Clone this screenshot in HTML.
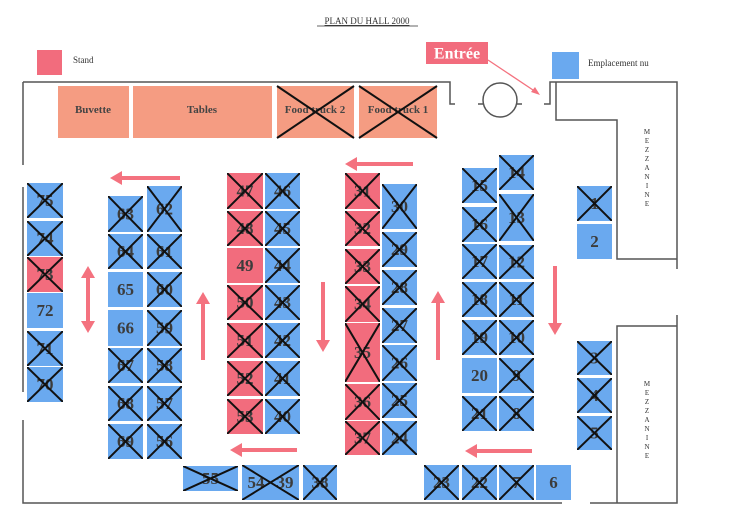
<!DOCTYPE html>
<html><head><meta charset="utf-8">
<style>
html,body{margin:0;padding:0;background:#fff;width:734px;height:519px;overflow:hidden}
svg{display:block}
.b{fill:#6aa9ef}.p{fill:#f26c7d}.s{fill:#f59c82}
line.x{stroke:#111;stroke-width:2}
text.n{font-family:"Liberation Serif",serif;font-weight:bold;font-size:17px;fill:#3c3c3c;text-anchor:middle;dominant-baseline:central}
text.f{font-family:"Liberation Serif",serif;font-weight:bold;font-size:11px;fill:#444;text-anchor:middle;dominant-baseline:central}
.w{stroke:#555;stroke-width:1.5;fill:none}
.ar{stroke:#f4727f;stroke-width:4}
.ah{fill:#f4727f}
.mz{font-family:"Liberation Serif",serif;font-size:7px;fill:#333;text-anchor:middle}
</style></head><body>
<svg width="734" height="519" viewBox="0 0 734 519" xmlns="http://www.w3.org/2000/svg">
<text x="367" y="24" font-family="Liberation Serif,serif" font-size="9" text-anchor="middle" fill="#333" text-decoration="underline">PLAN DU HALL 2000</text>
<line x1="317" y1="26" x2="418" y2="26" stroke="#333" stroke-width="0.7"/>
<rect x="37" y="50" width="25" height="25" class="p"/>
<text x="73" y="63" font-family="Liberation Serif,serif" font-size="9" fill="#333">Stand</text>
<rect x="552" y="52" width="27" height="27" class="b"/>
<text x="588" y="66" font-family="Liberation Serif,serif" font-size="9" fill="#333">Emplacement nu</text>
<rect x="426" y="42" width="62" height="22" class="p"/>
<text x="457" y="54" font-family="Liberation Serif,serif" font-weight="bold" font-size="16" fill="#fff" text-anchor="middle" dominant-baseline="central">Entrée</text>
<line x1="488" y1="60" x2="536" y2="92" stroke="#f4727f" stroke-width="1.3"/>
<polygon points="540,95 531,92 535,87" fill="#f4727f"/>

<!-- walls -->
<path class="w" d="M23 82 H450 V104 H455 M478 104 H483 M517 104 H522 M544 104 H550 V82 H677 V269 M556 82 V120 H617 V259 H677 M677 315 V503 H590 M617 503 V326 H677 M23 82 V165 M23 187 V392 M23 420 V503 H562"/>
<circle cx="500" cy="100" r="17" class="w"/>

<!-- top stands -->
<rect x="58" y="86" width="71" height="52" class="s"/><text class="f" x="93" y="110">Buvette</text>
<rect x="133" y="86" width="139" height="52" class="s"/><text class="f" x="202" y="110">Tables</text>
<rect x="277" y="86" width="77" height="52" class="s"/><text class="f" x="315" y="110">Food truck 2</text>
<line class="x" x1="277" y1="86" x2="354" y2="138"/><line class="x" x1="354" y1="86" x2="277" y2="138"/>
<rect x="359" y="86" width="78" height="52" class="s"/><text class="f" x="398" y="110">Food truck 1</text>
<line class="x" x1="359" y1="86" x2="437" y2="138"/><line class="x" x1="437" y1="86" x2="359" y2="138"/>

<!-- mezzanine labels -->
<text class="mz" x="647" y="134"><tspan x="647">M</tspan><tspan x="647" dy="9">E</tspan><tspan x="647" dy="9">Z</tspan><tspan x="647" dy="9">Z</tspan><tspan x="647" dy="9">A</tspan><tspan x="647" dy="9">N</tspan><tspan x="647" dy="9">I</tspan><tspan x="647" dy="9">N</tspan><tspan x="647" dy="9">E</tspan></text>
<text class="mz" x="647" y="386"><tspan x="647">M</tspan><tspan x="647" dy="9">E</tspan><tspan x="647" dy="9">Z</tspan><tspan x="647" dy="9">Z</tspan><tspan x="647" dy="9">A</tspan><tspan x="647" dy="9">N</tspan><tspan x="647" dy="9">I</tspan><tspan x="647" dy="9">N</tspan><tspan x="647" dy="9">E</tspan></text>

<!-- Column A -->
<svg x="27" y="183" width="36" height="35"><rect class="b" width="100%" height="100%"/><text class="n" x="50%" y="50%">75</text><line class="x" x1="0" y1="0" x2="100%" y2="100%"/><line class="x" x1="100%" y1="0" x2="0" y2="100%"/></svg>
<svg x="27" y="221" width="36" height="35"><rect class="b" width="100%" height="100%"/><text class="n" x="50%" y="50%">74</text><line class="x" x1="0" y1="0" x2="100%" y2="100%"/><line class="x" x1="100%" y1="0" x2="0" y2="100%"/></svg>
<svg x="27" y="257" width="36" height="35"><rect class="p" width="100%" height="100%"/><text class="n" x="50%" y="50%">73</text><line class="x" x1="0" y1="0" x2="100%" y2="100%"/><line class="x" x1="100%" y1="0" x2="0" y2="100%"/></svg>
<svg x="27" y="293" width="36" height="35"><rect class="b" width="100%" height="100%"/><text class="n" x="50%" y="50%">72</text></svg>
<svg x="27" y="331" width="36" height="35"><rect class="b" width="100%" height="100%"/><text class="n" x="50%" y="50%">71</text><line class="x" x1="0" y1="0" x2="100%" y2="100%"/><line class="x" x1="100%" y1="0" x2="0" y2="100%"/></svg>
<svg x="27" y="367" width="36" height="35"><rect class="b" width="100%" height="100%"/><text class="n" x="50%" y="50%">70</text><line class="x" x1="0" y1="0" x2="100%" y2="100%"/><line class="x" x1="100%" y1="0" x2="0" y2="100%"/></svg>

<!-- Column B left -->
<svg x="108" y="196" width="35" height="36"><rect class="b" width="100%" height="100%"/><text class="n" x="50%" y="50%">63</text><line class="x" x1="0" y1="0" x2="100%" y2="100%"/><line class="x" x1="100%" y1="0" x2="0" y2="100%"/></svg>
<svg x="108" y="234" width="35" height="35"><rect class="b" width="100%" height="100%"/><text class="n" x="50%" y="50%">64</text><line class="x" x1="0" y1="0" x2="100%" y2="100%"/><line class="x" x1="100%" y1="0" x2="0" y2="100%"/></svg>
<svg x="108" y="272" width="35" height="35"><rect class="b" width="100%" height="100%"/><text class="n" x="50%" y="50%">65</text></svg>
<svg x="108" y="310" width="35" height="36"><rect class="b" width="100%" height="100%"/><text class="n" x="50%" y="50%">66</text></svg>
<svg x="108" y="348" width="35" height="35"><rect class="b" width="100%" height="100%"/><text class="n" x="50%" y="50%">67</text><line class="x" x1="0" y1="0" x2="100%" y2="100%"/><line class="x" x1="100%" y1="0" x2="0" y2="100%"/></svg>
<svg x="108" y="386" width="35" height="35"><rect class="b" width="100%" height="100%"/><text class="n" x="50%" y="50%">68</text><line class="x" x1="0" y1="0" x2="100%" y2="100%"/><line class="x" x1="100%" y1="0" x2="0" y2="100%"/></svg>
<svg x="108" y="424" width="35" height="35"><rect class="b" width="100%" height="100%"/><text class="n" x="50%" y="50%">69</text><line class="x" x1="0" y1="0" x2="100%" y2="100%"/><line class="x" x1="100%" y1="0" x2="0" y2="100%"/></svg>
<!-- Column B right -->
<svg x="147" y="186" width="35" height="46"><rect class="b" width="100%" height="100%"/><text class="n" x="50%" y="50%">62</text><line class="x" x1="0" y1="0" x2="100%" y2="100%"/><line class="x" x1="100%" y1="0" x2="0" y2="100%"/></svg>
<svg x="147" y="234" width="35" height="35"><rect class="b" width="100%" height="100%"/><text class="n" x="50%" y="50%">61</text><line class="x" x1="0" y1="0" x2="100%" y2="100%"/><line class="x" x1="100%" y1="0" x2="0" y2="100%"/></svg>
<svg x="147" y="272" width="35" height="35"><rect class="b" width="100%" height="100%"/><text class="n" x="50%" y="50%">60</text><line class="x" x1="0" y1="0" x2="100%" y2="100%"/><line class="x" x1="100%" y1="0" x2="0" y2="100%"/></svg>
<svg x="147" y="310" width="35" height="36"><rect class="b" width="100%" height="100%"/><text class="n" x="50%" y="50%">59</text><line class="x" x1="0" y1="0" x2="100%" y2="100%"/><line class="x" x1="100%" y1="0" x2="0" y2="100%"/></svg>
<svg x="147" y="348" width="35" height="35"><rect class="b" width="100%" height="100%"/><text class="n" x="50%" y="50%">58</text><line class="x" x1="0" y1="0" x2="100%" y2="100%"/><line class="x" x1="100%" y1="0" x2="0" y2="100%"/></svg>
<svg x="147" y="386" width="35" height="35"><rect class="b" width="100%" height="100%"/><text class="n" x="50%" y="50%">57</text><line class="x" x1="0" y1="0" x2="100%" y2="100%"/><line class="x" x1="100%" y1="0" x2="0" y2="100%"/></svg>
<svg x="147" y="424" width="35" height="35"><rect class="b" width="100%" height="100%"/><text class="n" x="50%" y="50%">56</text><line class="x" x1="0" y1="0" x2="100%" y2="100%"/><line class="x" x1="100%" y1="0" x2="0" y2="100%"/></svg>

<!-- Column C left (pink) -->
<svg x="227" y="173" width="36" height="36"><rect class="p" width="100%" height="100%"/><text class="n" x="50%" y="50%">47</text><line class="x" x1="0" y1="0" x2="100%" y2="100%"/><line class="x" x1="100%" y1="0" x2="0" y2="100%"/></svg>
<svg x="227" y="211" width="36" height="35"><rect class="p" width="100%" height="100%"/><text class="n" x="50%" y="50%">48</text><line class="x" x1="0" y1="0" x2="100%" y2="100%"/><line class="x" x1="100%" y1="0" x2="0" y2="100%"/></svg>
<svg x="227" y="248" width="36" height="35"><rect class="p" width="100%" height="100%"/><text class="n" x="50%" y="50%">49</text></svg>
<svg x="227" y="285" width="36" height="35"><rect class="p" width="100%" height="100%"/><text class="n" x="50%" y="50%">50</text><line class="x" x1="0" y1="0" x2="100%" y2="100%"/><line class="x" x1="100%" y1="0" x2="0" y2="100%"/></svg>
<svg x="227" y="323" width="36" height="35"><rect class="p" width="100%" height="100%"/><text class="n" x="50%" y="50%">51</text><line class="x" x1="0" y1="0" x2="100%" y2="100%"/><line class="x" x1="100%" y1="0" x2="0" y2="100%"/></svg>
<svg x="227" y="361" width="36" height="35"><rect class="p" width="100%" height="100%"/><text class="n" x="50%" y="50%">52</text><line class="x" x1="0" y1="0" x2="100%" y2="100%"/><line class="x" x1="100%" y1="0" x2="0" y2="100%"/></svg>
<svg x="227" y="399" width="36" height="35"><rect class="p" width="100%" height="100%"/><text class="n" x="50%" y="50%">53</text><line class="x" x1="0" y1="0" x2="100%" y2="100%"/><line class="x" x1="100%" y1="0" x2="0" y2="100%"/></svg>
<!-- Column C right -->
<svg x="265" y="173" width="35" height="36"><rect class="b" width="100%" height="100%"/><text class="n" x="50%" y="50%">46</text><line class="x" x1="0" y1="0" x2="100%" y2="100%"/><line class="x" x1="100%" y1="0" x2="0" y2="100%"/></svg>
<svg x="265" y="211" width="35" height="35"><rect class="b" width="100%" height="100%"/><text class="n" x="50%" y="50%">45</text><line class="x" x1="0" y1="0" x2="100%" y2="100%"/><line class="x" x1="100%" y1="0" x2="0" y2="100%"/></svg>
<svg x="265" y="248" width="35" height="35"><rect class="b" width="100%" height="100%"/><text class="n" x="50%" y="50%">44</text><line class="x" x1="0" y1="0" x2="100%" y2="100%"/><line class="x" x1="100%" y1="0" x2="0" y2="100%"/></svg>
<svg x="265" y="285" width="35" height="35"><rect class="b" width="100%" height="100%"/><text class="n" x="50%" y="50%">43</text><line class="x" x1="0" y1="0" x2="100%" y2="100%"/><line class="x" x1="100%" y1="0" x2="0" y2="100%"/></svg>
<svg x="265" y="323" width="35" height="35"><rect class="b" width="100%" height="100%"/><text class="n" x="50%" y="50%">42</text><line class="x" x1="0" y1="0" x2="100%" y2="100%"/><line class="x" x1="100%" y1="0" x2="0" y2="100%"/></svg>
<svg x="265" y="361" width="35" height="35"><rect class="b" width="100%" height="100%"/><text class="n" x="50%" y="50%">41</text><line class="x" x1="0" y1="0" x2="100%" y2="100%"/><line class="x" x1="100%" y1="0" x2="0" y2="100%"/></svg>
<svg x="265" y="399" width="35" height="35"><rect class="b" width="100%" height="100%"/><text class="n" x="50%" y="50%">40</text><line class="x" x1="0" y1="0" x2="100%" y2="100%"/><line class="x" x1="100%" y1="0" x2="0" y2="100%"/></svg>

<!-- Column D left (pink) -->
<svg x="345" y="173" width="35" height="36"><rect class="p" width="100%" height="100%"/><text class="n" x="50%" y="50%">31</text><line class="x" x1="0" y1="0" x2="100%" y2="100%"/><line class="x" x1="100%" y1="0" x2="0" y2="100%"/></svg>
<svg x="345" y="211" width="35" height="35"><rect class="p" width="100%" height="100%"/><text class="n" x="50%" y="50%">32</text><line class="x" x1="0" y1="0" x2="100%" y2="100%"/><line class="x" x1="100%" y1="0" x2="0" y2="100%"/></svg>
<svg x="345" y="249" width="35" height="35"><rect class="p" width="100%" height="100%"/><text class="n" x="50%" y="50%">33</text><line class="x" x1="0" y1="0" x2="100%" y2="100%"/><line class="x" x1="100%" y1="0" x2="0" y2="100%"/></svg>
<svg x="345" y="286" width="35" height="36"><rect class="p" width="100%" height="100%"/><text class="n" x="50%" y="50%">34</text><line class="x" x1="0" y1="0" x2="100%" y2="100%"/><line class="x" x1="100%" y1="0" x2="0" y2="100%"/></svg>
<svg x="345" y="323" width="35" height="59"><rect class="p" width="100%" height="100%"/><text class="n" x="50%" y="50%">35</text><line class="x" x1="0" y1="0" x2="100%" y2="100%"/><line class="x" x1="100%" y1="0" x2="0" y2="100%"/></svg>
<svg x="345" y="384" width="35" height="36"><rect class="p" width="100%" height="100%"/><text class="n" x="50%" y="50%">36</text><line class="x" x1="0" y1="0" x2="100%" y2="100%"/><line class="x" x1="100%" y1="0" x2="0" y2="100%"/></svg>
<svg x="345" y="421" width="35" height="34"><rect class="p" width="100%" height="100%"/><text class="n" x="50%" y="50%">37</text><line class="x" x1="0" y1="0" x2="100%" y2="100%"/><line class="x" x1="100%" y1="0" x2="0" y2="100%"/></svg>
<!-- Column D right -->
<svg x="382" y="184" width="35" height="45"><rect class="b" width="100%" height="100%"/><text class="n" x="50%" y="50%">30</text><line class="x" x1="0" y1="0" x2="100%" y2="100%"/><line class="x" x1="100%" y1="0" x2="0" y2="100%"/></svg>
<svg x="382" y="232" width="35" height="35"><rect class="b" width="100%" height="100%"/><text class="n" x="50%" y="50%">29</text><line class="x" x1="0" y1="0" x2="100%" y2="100%"/><line class="x" x1="100%" y1="0" x2="0" y2="100%"/></svg>
<svg x="382" y="270" width="35" height="35"><rect class="b" width="100%" height="100%"/><text class="n" x="50%" y="50%">28</text><line class="x" x1="0" y1="0" x2="100%" y2="100%"/><line class="x" x1="100%" y1="0" x2="0" y2="100%"/></svg>
<svg x="382" y="308" width="35" height="35"><rect class="b" width="100%" height="100%"/><text class="n" x="50%" y="50%">27</text><line class="x" x1="0" y1="0" x2="100%" y2="100%"/><line class="x" x1="100%" y1="0" x2="0" y2="100%"/></svg>
<svg x="382" y="345" width="35" height="36"><rect class="b" width="100%" height="100%"/><text class="n" x="50%" y="50%">26</text><line class="x" x1="0" y1="0" x2="100%" y2="100%"/><line class="x" x1="100%" y1="0" x2="0" y2="100%"/></svg>
<svg x="382" y="383" width="35" height="35"><rect class="b" width="100%" height="100%"/><text class="n" x="50%" y="50%">25</text><line class="x" x1="0" y1="0" x2="100%" y2="100%"/><line class="x" x1="100%" y1="0" x2="0" y2="100%"/></svg>
<svg x="382" y="421" width="35" height="34"><rect class="b" width="100%" height="100%"/><text class="n" x="50%" y="50%">24</text><line class="x" x1="0" y1="0" x2="100%" y2="100%"/><line class="x" x1="100%" y1="0" x2="0" y2="100%"/></svg>

<!-- Column E left -->
<svg x="462" y="168" width="35" height="35"><rect class="b" width="100%" height="100%"/><text class="n" x="50%" y="50%">15</text><line class="x" x1="0" y1="0" x2="100%" y2="100%"/><line class="x" x1="100%" y1="0" x2="0" y2="100%"/></svg>
<svg x="462" y="207" width="35" height="35"><rect class="b" width="100%" height="100%"/><text class="n" x="50%" y="50%">16</text><line class="x" x1="0" y1="0" x2="100%" y2="100%"/><line class="x" x1="100%" y1="0" x2="0" y2="100%"/></svg>
<svg x="462" y="244" width="35" height="35"><rect class="b" width="100%" height="100%"/><text class="n" x="50%" y="50%">17</text><line class="x" x1="0" y1="0" x2="100%" y2="100%"/><line class="x" x1="100%" y1="0" x2="0" y2="100%"/></svg>
<svg x="462" y="282" width="35" height="35"><rect class="b" width="100%" height="100%"/><text class="n" x="50%" y="50%">18</text><line class="x" x1="0" y1="0" x2="100%" y2="100%"/><line class="x" x1="100%" y1="0" x2="0" y2="100%"/></svg>
<svg x="462" y="320" width="35" height="35"><rect class="b" width="100%" height="100%"/><text class="n" x="50%" y="50%">19</text><line class="x" x1="0" y1="0" x2="100%" y2="100%"/><line class="x" x1="100%" y1="0" x2="0" y2="100%"/></svg>
<svg x="462" y="358" width="35" height="35"><rect class="b" width="100%" height="100%"/><text class="n" x="50%" y="50%">20</text></svg>
<svg x="462" y="396" width="35" height="35"><rect class="b" width="100%" height="100%"/><text class="n" x="50%" y="50%">21</text><line class="x" x1="0" y1="0" x2="100%" y2="100%"/><line class="x" x1="100%" y1="0" x2="0" y2="100%"/></svg>
<!-- Column E right -->
<svg x="499" y="155" width="35" height="35"><rect class="b" width="100%" height="100%"/><text class="n" x="50%" y="50%">14</text><line class="x" x1="0" y1="0" x2="100%" y2="100%"/><line class="x" x1="100%" y1="0" x2="0" y2="100%"/></svg>
<svg x="499" y="194" width="35" height="47"><rect class="b" width="100%" height="100%"/><text class="n" x="50%" y="50%">13</text><line class="x" x1="0" y1="0" x2="100%" y2="100%"/><line class="x" x1="100%" y1="0" x2="0" y2="100%"/></svg>
<svg x="499" y="245" width="35" height="34"><rect class="b" width="100%" height="100%"/><text class="n" x="50%" y="50%">12</text><line class="x" x1="0" y1="0" x2="100%" y2="100%"/><line class="x" x1="100%" y1="0" x2="0" y2="100%"/></svg>
<svg x="499" y="282" width="35" height="35"><rect class="b" width="100%" height="100%"/><text class="n" x="50%" y="50%">11</text><line class="x" x1="0" y1="0" x2="100%" y2="100%"/><line class="x" x1="100%" y1="0" x2="0" y2="100%"/></svg>
<svg x="499" y="320" width="35" height="35"><rect class="b" width="100%" height="100%"/><text class="n" x="50%" y="50%">10</text><line class="x" x1="0" y1="0" x2="100%" y2="100%"/><line class="x" x1="100%" y1="0" x2="0" y2="100%"/></svg>
<svg x="499" y="358" width="35" height="35"><rect class="b" width="100%" height="100%"/><text class="n" x="50%" y="50%">9</text><line class="x" x1="0" y1="0" x2="100%" y2="100%"/><line class="x" x1="100%" y1="0" x2="0" y2="100%"/></svg>
<svg x="499" y="396" width="35" height="35"><rect class="b" width="100%" height="100%"/><text class="n" x="50%" y="50%">8</text><line class="x" x1="0" y1="0" x2="100%" y2="100%"/><line class="x" x1="100%" y1="0" x2="0" y2="100%"/></svg>

<!-- Right column -->
<svg x="577" y="186" width="35" height="35"><rect class="b" width="100%" height="100%"/><text class="n" x="50%" y="50%">1</text><line class="x" x1="0" y1="0" x2="100%" y2="100%"/><line class="x" x1="100%" y1="0" x2="0" y2="100%"/></svg>
<svg x="577" y="224" width="35" height="35"><rect class="b" width="100%" height="100%"/><text class="n" x="50%" y="50%">2</text></svg>
<svg x="577" y="341" width="35" height="34"><rect class="b" width="100%" height="100%"/><text class="n" x="50%" y="50%">3</text><line class="x" x1="0" y1="0" x2="100%" y2="100%"/><line class="x" x1="100%" y1="0" x2="0" y2="100%"/></svg>
<svg x="577" y="378" width="35" height="35"><rect class="b" width="100%" height="100%"/><text class="n" x="50%" y="50%">4</text><line class="x" x1="0" y1="0" x2="100%" y2="100%"/><line class="x" x1="100%" y1="0" x2="0" y2="100%"/></svg>
<svg x="577" y="416" width="35" height="34"><rect class="b" width="100%" height="100%"/><text class="n" x="50%" y="50%">5</text><line class="x" x1="0" y1="0" x2="100%" y2="100%"/><line class="x" x1="100%" y1="0" x2="0" y2="100%"/></svg>

<!-- Bottom row -->
<svg x="183" y="466" width="55" height="25"><rect class="b" width="100%" height="100%"/><text class="n" x="50%" y="50%">55</text><line class="x" x1="0" y1="0" x2="100%" y2="100%"/><line class="x" x1="100%" y1="0" x2="0" y2="100%"/></svg>
<svg x="242" y="465" width="57" height="35"><rect class="b" width="100%" height="100%"/><text class="n" x="14" y="50%">54</text><text class="n" x="43" y="50%">39</text><line class="x" x1="0" y1="0" x2="100%" y2="100%"/><line class="x" x1="100%" y1="0" x2="0" y2="100%"/></svg>
<svg x="303" y="465" width="34" height="35"><rect class="b" width="100%" height="100%"/><text class="n" x="50%" y="50%">38</text><line class="x" x1="0" y1="0" x2="100%" y2="100%"/><line class="x" x1="100%" y1="0" x2="0" y2="100%"/></svg>
<svg x="424" y="465" width="35" height="35"><rect class="b" width="100%" height="100%"/><text class="n" x="50%" y="50%">23</text><line class="x" x1="0" y1="0" x2="100%" y2="100%"/><line class="x" x1="100%" y1="0" x2="0" y2="100%"/></svg>
<svg x="462" y="465" width="35" height="35"><rect class="b" width="100%" height="100%"/><text class="n" x="50%" y="50%">22</text><line class="x" x1="0" y1="0" x2="100%" y2="100%"/><line class="x" x1="100%" y1="0" x2="0" y2="100%"/></svg>
<svg x="499" y="465" width="35" height="35"><rect class="b" width="100%" height="100%"/><text class="n" x="50%" y="50%">7</text><line class="x" x1="0" y1="0" x2="100%" y2="100%"/><line class="x" x1="100%" y1="0" x2="0" y2="100%"/></svg>
<svg x="536" y="465" width="35" height="35"><rect class="b" width="100%" height="100%"/><text class="n" x="50%" y="50%">6</text></svg>

<!-- Arrows -->
<line class="ar" x1="120" y1="178" x2="180" y2="178"/><polygon class="ah" points="110,178 122,171 122,185"/>
<line class="ar" x1="88" y1="276" x2="88" y2="323"/><polygon class="ah" points="88,266 81,278 95,278"/><polygon class="ah" points="88,333 81,321 95,321"/>
<line class="ar" x1="203" y1="302" x2="203" y2="360"/><polygon class="ah" points="203,292 196,304 210,304"/>
<line class="ar" x1="323" y1="282" x2="323" y2="342"/><polygon class="ah" points="323,352 316,340 330,340"/>
<line class="ar" x1="240" y1="450" x2="297" y2="450"/><polygon class="ah" points="230,450 242,443 242,457"/>
<line class="ar" x1="355" y1="164" x2="413" y2="164"/><polygon class="ah" points="345,164 357,157 357,171"/>
<line class="ar" x1="438" y1="301" x2="438" y2="360"/><polygon class="ah" points="438,291 431,303 445,303"/>
<line class="ar" x1="555" y1="266" x2="555" y2="325"/><polygon class="ah" points="555,335 548,323 562,323"/>
<line class="ar" x1="475" y1="451" x2="532" y2="451"/><polygon class="ah" points="465,451 477,444 477,458"/>
</svg>
</body></html>
